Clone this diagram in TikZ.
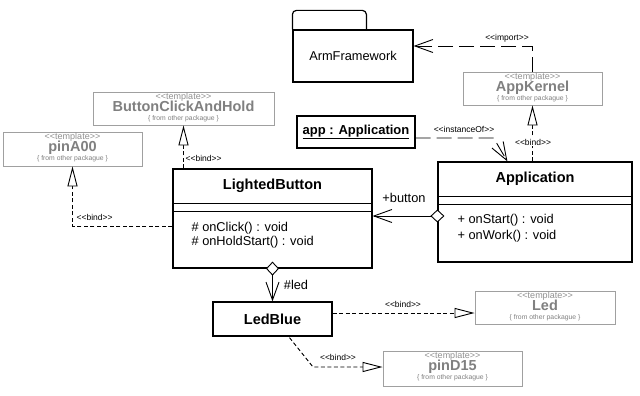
\documentclass[tikz,border=0pt]{standalone}
\usepackage{fontspec}
\newfontfamily\uml{Liberation Sans}
\usetikzlibrary{arrows.meta}
\definecolor{tborder}{HTML}{A0A0A0}
\definecolor{ttext}{HTML}{808080}
\definecolor{tlight}{HTML}{909090}
\newcommand\umlsz[2]{\fontsize{#1}{#2}\selectfont}
\newcommand\umltmpl[5]{%
  \node[tmpl, minimum width=#3, minimum height=#4] (#1) at (#2) {};
  \node[tst] at ([yshift=-8pt]#1.north) {<<template>>};
  \node[tnm] at ([yshift=-20pt]#1.north) {#5};
  \node[tfr] at ([yshift=-28.5pt]#1.north) {\{ from other packague \}};
}
\begin{document}
\begin{tikzpicture}[x=1pt,y=-1pt,
  font=\uml,
  cls/.style={draw=black, line width=1.2pt, inner sep=0pt, fill=white},
  tmpl/.style={draw=tborder, line width=0.9pt, inner sep=0pt},
  tst/.style={font=\uml\umlsz{9}{10}, text=tlight, inner sep=0pt, anchor=base},
  tnm/.style={font=\uml\umlsz{14.5}{16}\bfseries, text=ttext, inner sep=0pt, anchor=base},
  tfr/.style={font=\uml\umlsz{6.8}{8}, text=ttext, inner sep=0pt, anchor=base},
  ttl/.style={font=\uml\umlsz{14.5}{16}\bfseries, inner sep=0pt, anchor=base},
  meth/.style={font=\uml\umlsz{12.8}{14}, inner sep=0pt, anchor=base west},
  lbl/.style={font=\uml\umlsz{8.5}{10}, inner sep=0.5pt},
  rlbl/.style={font=\uml\umlsz{12.8}{14}, inner sep=0pt},
  bindline/.style={line width=0.9pt, dash pattern=on 4pt off 2.5pt,
    -{Triangle[open, fill=white, length=20pt, width=10pt, line width=0.9pt]}},
  longdash/.style={line width=0.9pt, dash pattern=on 15pt off 6pt},
  vee/.style={-{Straight Barb[length=18pt, width=13pt, line width=0.9pt]}},
]
\useasboundingbox[fill=white] (0,0) rectangle (640,396);

% ---- package ArmFramework
\node[draw=black, line width=1.2pt, minimum width=120pt, minimum height=52pt, inner sep=0pt,
      font=\uml\umlsz{12.8}{14}] (arm) at (353,56) {ArmFramework};
\draw[line width=1.2pt, rounded corners=4pt] (arm.north west) -- ++(0,-19) -- ++(74,0) -- ([xshift=74pt]arm.north west);

% ---- templates
\umltmpl{appk}{532.5,88.5}{139pt}{33pt}{AppKernel}
\umltmpl{bch}{183.5,108.5}{181pt}{33pt}{ButtonClickAndHold}
\umltmpl{pina}{72.5,149}{139pt}{34pt}{pinA00}
\umltmpl{led}{545,307.5}{140pt}{33pt}{Led}
\umltmpl{pind}{452.5,368.5}{139pt}{35pt}{pinD15}

% ---- object
\node[cls, minimum width=118pt, minimum height=32pt, font=\uml\umlsz{13}{15}\bfseries]
  (app) at (356,132) {\underline{app : Application}};

% ---- classes
\node[cls, minimum width=194pt, minimum height=100pt] (appl) at (535,212) {};
\draw[line width=1.2pt] ([yshift=-35pt]appl.north west) -- ([yshift=-35pt]appl.north east);
\draw[line width=1.2pt] ([yshift=-43pt]appl.north west) -- ([yshift=-43pt]appl.north east);
\node[ttl] at ([yshift=-21pt]appl.north) {Application};
\node[meth] at ([xshift=20pt,yshift=-62.5pt]appl.north west) {+ onStart() : void};
\node[meth] at ([xshift=20pt,yshift=-78.5pt]appl.north west) {+ onWork() : void};

\node[cls, minimum width=199pt, minimum height=99pt] (lb) at (272.5,218.5) {};
\draw[line width=1.2pt] ([yshift=-35pt]lb.north west) -- ([yshift=-35pt]lb.north east);
\draw[line width=1.2pt] ([yshift=-43pt]lb.north west) -- ([yshift=-43pt]lb.north east);
\node[ttl] at ([yshift=-21pt]lb.north) {LightedButton};
\node[meth] at ([xshift=19pt,yshift=-63.5pt]lb.north west) {\# onClick() : void};
\node[meth] at ([xshift=19pt,yshift=-77.5pt]lb.north west) {\# onHoldStart() : void};

\node[cls, minimum width=119pt, minimum height=34pt, font=\uml\umlsz{14.5}{16}\bfseries]
  (ledb) at (272.5,319) {LedBlue};

% ---- connectors
\draw[longdash, vee] (appk.north) |- ([yshift=10pt]arm.east);
\node[lbl] at (507,38) {<<import>>};

\draw[longdash, vee] ([yshift=-6pt]app.east) -- ++(78,0) -- ([xshift=70pt]appl.north west);
\node[lbl] at (464,129) {<<instanceOf>>};

\draw[bindline] (appk.south |- appl.north) -- (appk.south);
\node[lbl, fill=white] at (533,142) {<<bind>>};

\draw[bindline] (bch.south |- lb.north) -- (bch.south);
\node[lbl, anchor=west] at (185,158) {<<bind>>};

\draw[bindline] ([yshift=-7.5pt]lb.west) -| (pina.south);
\node[lbl, anchor=west] at (76,217) {<<bind>>};

\path ([yshift=-5.5pt]led.west) coordinate (ledin);
\draw[bindline] (ledb.east |- ledin) -- (ledin);
\node[lbl] at (403,304) {<<bind>>};

\coordinate (pdk) at (313,367);
\draw[bindline] ([xshift=17pt,yshift=-1pt]ledb.south) -- (pdk) -- (pdk -| pind.west);
\node[lbl] at (338,357) {<<bind>>};

\draw[line width=0.9pt, {Diamond[fill=white, length=14pt, width=13pt, line width=0.9pt]}-{Straight Barb[length=18pt, width=13pt, line width=0.9pt]}]
  ([xshift=7pt,yshift=-4pt]appl.west) -- ([yshift=-4pt]appl.west -| lb.east);
\node[rlbl] at (404,198) {+button};

\draw[line width=0.9pt, {Diamond[fill=white, length=14pt, width=13pt, line width=0.9pt]}-{Straight Barb[length=18pt, width=13pt, line width=0.9pt]}]
  ([yshift=7pt]lb.south) -- (ledb.north);
\node[rlbl] at (296,285) {\#led};
\end{tikzpicture}
\end{document}
